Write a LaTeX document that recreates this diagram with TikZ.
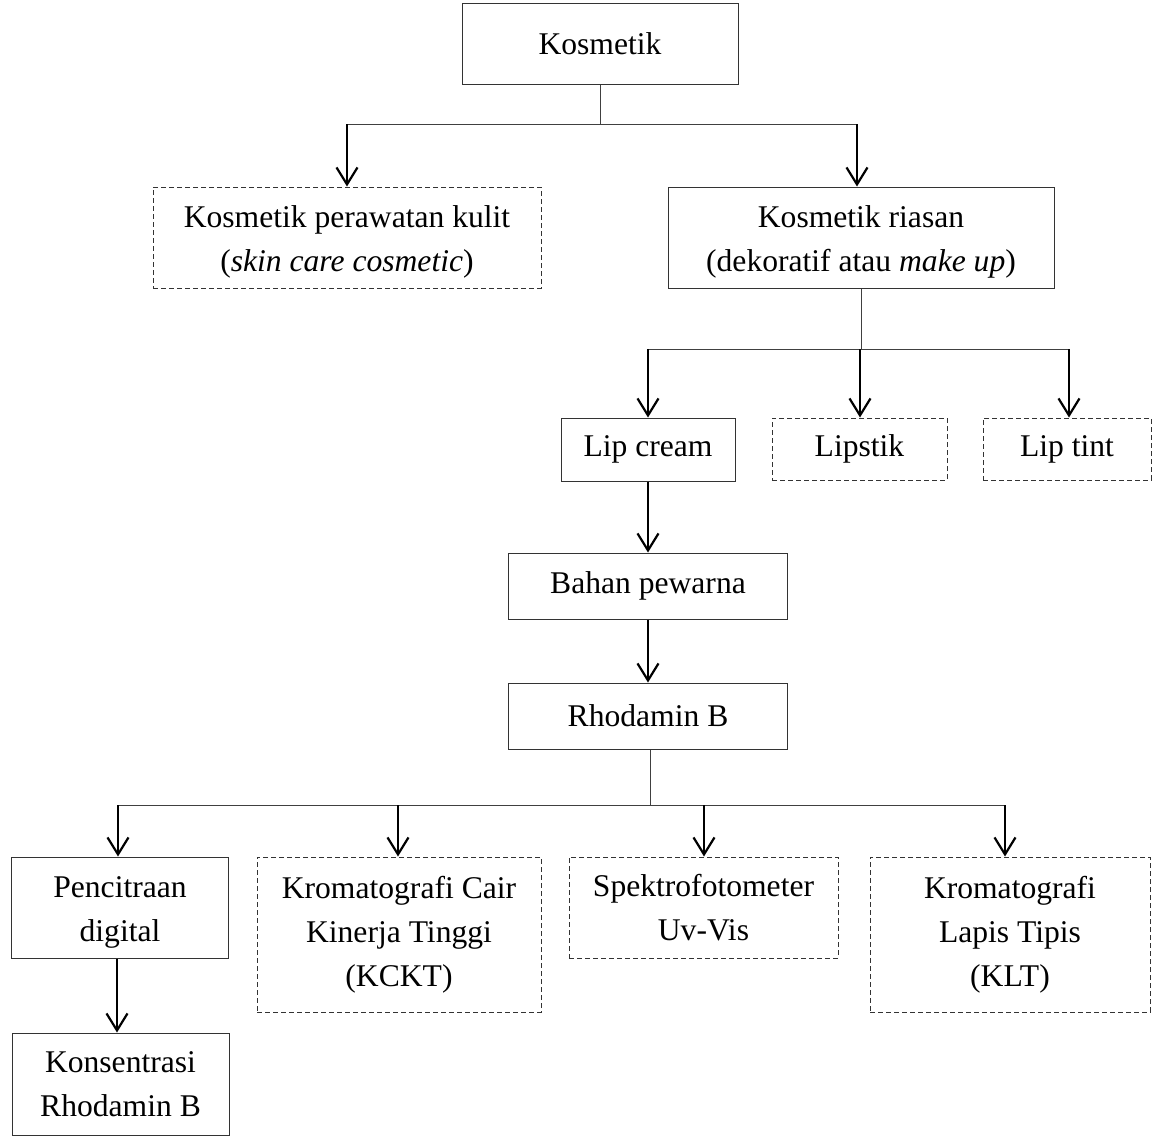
\documentclass[tikz,border=0pt]{standalone}
\usepackage{fontspec}
\setmainfont{Liberation Serif}
\usetikzlibrary{arrows.meta}
\begin{document}
\begin{tikzpicture}[x=1pt,y=-1pt,
  box/.style={draw=black!80, line width=1pt, inner sep=0pt, align=center, font=\fontsize{31.6}{44}\selectfont},
  dbox/.style={box, dash pattern=on 5pt off 3pt},
  link/.style={draw=black!75, line width=1pt},
  arr/.style={draw=black, line width=2.4pt, -{Straight Barb[length=17pt,width=21pt,line width=2.2pt]}}]
\useasboundingbox (0,0) rectangle (1152,1136);

\node[box, minimum width=276pt, minimum height=81pt] (kos) at (600,43.5) {Kosmetik};
\node[dbox, minimum width=388pt, minimum height=101pt] (kpk) at (347,237.5) {\strut Kosmetik perawatan kulit\\(\textit{skin care cosmetic})};
\node[box, minimum width=386pt, minimum height=101pt] (kr) at (861,237.5) {\strut Kosmetik riasan\\(dekoratif atau \textit{make up})};
\node[box, minimum width=174pt, minimum height=63pt] (lc) at (648,449.5) {Lip cream};
\node[dbox, minimum width=175pt, minimum height=62pt] (ls) at (859.5,449) {Lipstik};
\node[dbox, minimum width=168pt, minimum height=62pt] (lt) at (1067,449) {Lip tint};
\node[box, minimum width=279pt, minimum height=66pt] (bp) at (648,586) {Bahan pewarna};
\node[box, minimum width=279pt, minimum height=66pt] (rb) at (648,716) {Rhodamin B};
\node[box, minimum width=217pt, minimum height=101pt] (pd) at (120,907.5) {\strut Pencitraan\\digital};
\node[dbox, minimum width=284pt, minimum height=155pt] (kc) at (399,934.5) {Kromatografi Cair\\Kinerja Tinggi\\(KCKT)};
\node[dbox, minimum width=269pt, minimum height=101pt] (sp) at (703.5,907.5) {Spektrofotometer\\Uv-Vis};
\node[dbox, minimum width=280pt, minimum height=155pt] (kl) at (1010,934.5) {Kromatografi\\Lapis Tipis\\(KLT)};
\node[box, minimum width=217pt, minimum height=102pt] (ko) at (120.5,1084) {Konsentrasi\\Rhodamin B};

% level 1
\coordinate (j1) at (600,124);
\coordinate (j1l) at (347,124);
\coordinate (j1r) at (857,124);
\draw[link] (kos.south) -- (j1);
\draw[link] (j1l) -- (j1r);
\draw[arr] (j1l) -- (j1l |- kpk.north);
\draw[arr] (j1r) -- (j1r |- kr.north);

% level 2
\coordinate (j2) at (861,349);
\coordinate (j2a) at (648,349);
\coordinate (j2b) at (860,349);
\coordinate (j2c) at (1069,349);
\draw[link] (kr.south) -- (j2);
\draw[link] (j2a) -- (j2c);
\draw[arr] (j2a) -- (j2a |- lc.north);
\draw[arr] (j2b) -- (j2b |- ls.north);
\draw[arr] (j2c) -- (j2c |- lt.north);

% chain
\draw[arr] (lc.south) -- (bp.north);
\draw[arr] (bp.south) -- (rb.north);

% level 3
\coordinate (j3) at (650,805);
\coordinate (j3a) at (118,805);
\coordinate (j3b) at (398,805);
\coordinate (j3c) at (704,805);
\coordinate (j3d) at (1005,805);
\draw[link] (j3 |- rb.south) -- (j3);
\draw[link] (j3a) -- (j3d);
\draw[arr] (j3a) -- (j3a |- pd.north);
\draw[arr] (j3b) -- (j3b |- kc.north);
\draw[arr] (j3c) -- (j3c |- sp.north);
\draw[arr] (j3d) -- (j3d |- kl.north);

\coordinate (j4) at (117,958);
\draw[arr] (j4 |- pd.south) -- (j4 |- ko.north);
\end{tikzpicture}
\end{document}
